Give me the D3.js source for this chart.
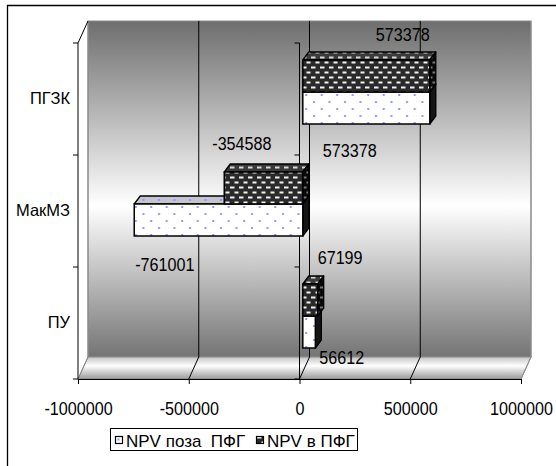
<!DOCTYPE html>
<html>
<head>
<meta charset="utf-8">
<script src="https://cdn.jsdelivr.net/npm/d3@7"></script>
<style>
  body { margin: 0; background: #fff; }
  svg { display: block; font-family: "Liberation Sans", Arial, sans-serif; }
</style>
</head>
<body>
<div id="chart"></div>
<script>
// data
var categories = ["ПГЗК", "МакМЗ", "ПУ"];
var seriesKeys = ["in", "out"];
var seriesNames = {out: "NPV поза  ПФГ", in: "NPV в ПФГ"};
var npvInPFG = [573378, -354588, 67199];
var npvOutPFG = [573378, -761001, 56612];
var xTicks = [-1000000, -500000, 0, 500000, 1000000];

// label nudges (pixels) from the bar end, Excel placed them by hand
var labelNudgeIn = [[-54, -19], [-12, -22], [0, -20]];
var labelNudgeOut = [[-107, 33], [1, 35], [4, 16]];

var W = 556, H = 466;
var wall = {dx: 10, dy: -22};
var barFront = {dx: 3.3, dy: -7};
var barDepth = {dx: 6, dy: -8};
var numScale = 0.85;

var svg = d3.select("#chart").append("svg")
    .attr("width", W)
    .attr("height", H);

var defs = svg.append("defs");

var wallGrad = defs.append("linearGradient").attr("id", "wallGrad")
    .attr("x1", 0).attr("y1", 0).attr("x2", 0).attr("y2", 1);
wallGrad.append("stop").attr("offset", "0").attr("stop-color", "#6e6e6e");
wallGrad.append("stop").attr("offset", "0.55").attr("stop-color", "#ffffff");
wallGrad.append("stop").attr("offset", "1").attr("stop-color", "#747474");

var floorGrad = defs.append("linearGradient").attr("id", "floorGrad")
    .attr("x1", 0).attr("y1", 0).attr("x2", 0).attr("y2", 1);
floorGrad.append("stop").attr("offset", "0").attr("stop-color", "#c4c4c4");
floorGrad.append("stop").attr("offset", "0.4").attr("stop-color", "#ffffff");
floorGrad.append("stop").attr("offset", "1").attr("stop-color", "#9a9a9a");

function dotPattern(id, bg) {
    var p = defs.append("pattern").attr("id", id)
        .attr("patternUnits", "userSpaceOnUse")
        .attr("width", 15.5).attr("height", 14);
    p.append("rect").attr("width", 15.5).attr("height", 14).attr("fill", bg);
    p.append("rect").attr("x", 3).attr("y", 3).attr("width", 2).attr("height", 2).attr("fill", "#9494ff");
    p.append("rect").attr("x", 10.75).attr("y", 10).attr("width", 2).attr("height", 2).attr("fill", "#9494ff");
}
dotPattern("dotsFront", "#ffffff");
dotPattern("dotsTop", "#c4c4cc");

function brickPattern(id, bg, dash) {
    var p = defs.append("pattern").attr("id", id)
        .attr("patternUnits", "userSpaceOnUse")
        .attr("width", 9).attr("height", 10);
    p.append("rect").attr("width", 9).attr("height", 10).attr("fill", bg);
    p.append("rect").attr("x", 0.5).attr("y", 1.5).attr("width", 4).attr("height", 2).attr("fill", dash);
    p.append("rect").attr("x", 5).attr("y", 6.5).attr("width", 4).attr("height", 2).attr("fill", dash);
    p.append("rect").attr("x", 0).attr("y", 6.5).attr("width", 0.5).attr("height", 2).attr("fill", dash);
}
brickPattern("brickFront", "#2a2a2a", "#f2f2f2");
brickPattern("brickTop", "#3a3a3a", "#d8d8d8");
brickPattern("brickSide", "#0a0a0a", "#777777");

var fills = {
    in: {front: "url(#brickFront)", top: "url(#brickTop)", side: "url(#brickSide)"},
    out: {front: "url(#dotsFront)", top: "url(#dotsTop)", side: "#151515"}
};

// Excel writes a plain hyphen for negatives
function fmt(d) { return String(d); }

// outer chart frame (runs past the picture at right and bottom)
svg.append("path")
    .attr("d", "M7.5," + H + "V5.5H" + W)
    .attr("fill", "none")
    .attr("stroke", "#000")
    .attr("stroke-width", 1.3);

var x = d3.scaleLinear().domain([-1000000, 1000000]).range([78, 521]);
var y = d3.scaleBand().domain(categories).range([43, 379]);
var ys = d3.scaleBand().domain(seriesKeys).range([0, y.bandwidth()])
    .paddingInner(0).paddingOuter(0.75);

var x0 = x.range()[0], x1 = x.range()[1];
var y0 = y.range()[0], y1 = y.range()[1];

// back wall
svg.append("rect")
    .attr("x", x0 + wall.dx).attr("y", y0 + wall.dy)
    .attr("width", x1 - x0).attr("height", y1 - y0)
    .attr("fill", "url(#wallGrad)")
    .attr("stroke", "#8a8a8a")
    .attr("stroke-width", 1);

// floor
svg.append("path")
    .attr("d", "M" + x0 + "," + y1 + "L" + (x0 + wall.dx) + "," + (y1 + wall.dy) +
        "L" + (x1 + wall.dx) + "," + (y1 + wall.dy) + "L" + x1 + "," + y1 + "Z")
    .attr("fill", "url(#floorGrad)")
    .attr("stroke", "#8a8a8a")
    .attr("stroke-width", 1);

// gridlines on wall and floor
xTicks.forEach(function(t, i) {
    var edge = (i === 0 || i === xTicks.length - 1);
    svg.append("path")
        .attr("d", "M" + (x(t) + wall.dx) + "," + (y0 + wall.dy) +
            "V" + (y1 + wall.dy) + "L" + x(t) + "," + y1)
        .attr("fill", "none")
        .attr("stroke", edge ? "#8a8a8a" : "#000")
        .attr("stroke-width", 1);
});

// depth edge at the top left
svg.append("line")
    .attr("x1", x0).attr("y1", y0)
    .attr("x2", x0 + wall.dx).attr("y2", y0 + wall.dy)
    .attr("stroke", "#000");

// category tick marks on the left edge and on the zero line
var bounds = categories.map(function(c) { return y(c); }).concat([y1]);
[x0, x(0)].forEach(function(ax) {
    svg.append("line")
        .attr("x1", ax).attr("x2", ax)
        .attr("y1", y0).attr("y2", y1)
        .attr("stroke", "#000");
    svg.selectAll(null)
        .data(bounds)
        .enter().append("line")
        .attr("x1", ax - 5).attr("x2", ax)
        .attr("y1", function(d) { return d; })
        .attr("y2", function(d) { return d; })
        .attr("stroke", "#000");
});

// category labels
var yAxis = svg.append("g")
    .attr("transform", "translate(" + x0 + ",0)")
    .call(d3.axisLeft(y).tickSize(0).tickPadding(8));
yAxis.select(".domain").remove();
yAxis.selectAll("text")
    .style("font-family", "'Liberation Sans', Arial, sans-serif")
    .style("font-size", "16.5px")
    .style("fill", "#000");

// value axis
var xAxis = svg.append("g")
    .attr("transform", "translate(0," + y1 + ")")
    .call(d3.axisBottom(x).tickValues(xTicks).tickSizeOuter(0).tickSize(5)
        .tickPadding(18).tickFormat(fmt));
xAxis.select(".domain").attr("stroke", "#000");
xAxis.selectAll("line").attr("stroke", "#000");
xAxis.selectAll("text")
    .attr("transform", "scale(" + numScale + ",1)")
    .style("font-family", "'Liberation Sans', Arial, sans-serif")
    .style("font-size", "19px")
    .style("fill", "#000");

// bars
var bars = [];
categories.forEach(function(c, i) {
    // pale series first so the dark one covers its top face
    ["out", "in"].forEach(function(k) {
        var v = k === "in" ? npvInPFG[i] : npvOutPFG[i];
        var xa = x(0) + barFront.dx, xb = x(v) + barFront.dx;
        bars.push({
            cat: c, key: k, value: v, idx: i,
            left: Math.min(xa, xb), right: Math.max(xa, xb), end: xb,
            top: y(c) + ys(k) + barFront.dy, h: ys.bandwidth()
        });
    });
});

function poly(pts) {
    return "M" + pts.map(function(p) { return p[0] + "," + p[1]; }).join("L") + "Z";
}

var barG = svg.selectAll(".bar")
    .data(bars)
    .enter().append("g")
    .attr("class", "bar");

barG.append("path")
    .attr("d", function(d) {
        return poly([[d.left, d.top], [d.left + barDepth.dx, d.top + barDepth.dy],
            [d.right + barDepth.dx, d.top + barDepth.dy], [d.right, d.top]]);
    })
    .attr("fill", function(d) { return fills[d.key].top; })
    .attr("stroke", "#000").attr("stroke-width", 1.3).attr("stroke-linejoin", "round");

barG.append("path")
    .attr("d", function(d) {
        return poly([[d.right, d.top], [d.right + barDepth.dx, d.top + barDepth.dy],
            [d.right + barDepth.dx, d.top + d.h + barDepth.dy], [d.right, d.top + d.h]]);
    })
    .attr("fill", function(d) { return fills[d.key].side; })
    .attr("stroke", "#000").attr("stroke-width", 1.3).attr("stroke-linejoin", "round");

barG.append("rect")
    .attr("x", function(d) { return d.left; })
    .attr("y", function(d) { return d.top; })
    .attr("width", function(d) { return d.right - d.left; })
    .attr("height", function(d) { return d.h; })
    .attr("fill", function(d) { return fills[d.key].front; })
    .attr("stroke", "#000").attr("stroke-width", 1.5);

// data labels
svg.selectAll(".val")
    .data(bars)
    .enter().append("text")
    .attr("class", "val")
    .attr("transform", function(d) {
        var n = d.key === "in" ? labelNudgeIn[d.idx] : labelNudgeOut[d.idx];
        var by = d.key === "in" ? d.top : d.top + d.h;
        return "translate(" + (d.end + n[0]) + "," + (by + n[1]) + ") scale(" + numScale + ",1)";
    })
    .style("font-size", "19px")
    .style("fill", "#000")
    .text(function(d) { return fmt(d.value); });

// legend
var legend = svg.append("g");
legend.append("rect")
    .attr("x", 110.5).attr("y", 428.5)
    .attr("width", 247).attr("height", 22)
    .attr("fill", "#fff").attr("stroke", "#000");

var legendItems = [
    {key: "out", mx: 115, tx: 126},
    {key: "in", mx: 256, tx: 267}
];
legendItems.forEach(function(d) {
    legend.append("rect")
        .attr("x", d.mx + 0.5).attr("y", 436.5)
        .attr("width", 7).attr("height", 7)
        .attr("fill", d.key === "in" ? "url(#brickFront)" : "#fff")
        .attr("stroke", "#000").attr("stroke-width", 1.2);
    if (d.key === "out") {
        legend.append("rect")
            .attr("x", d.mx + 2.5).attr("y", 438.5)
            .attr("width", 2).attr("height", 2)
            .attr("fill", "#9494ff");
    }
    legend.append("text")
        .attr("x", d.tx).attr("y", 446.5)
        .style("font-size", "17px")
        .style("white-space", "pre")
        .style("fill", "#000")
        .text(seriesNames[d.key]);
});
</script>
</body>
</html>
